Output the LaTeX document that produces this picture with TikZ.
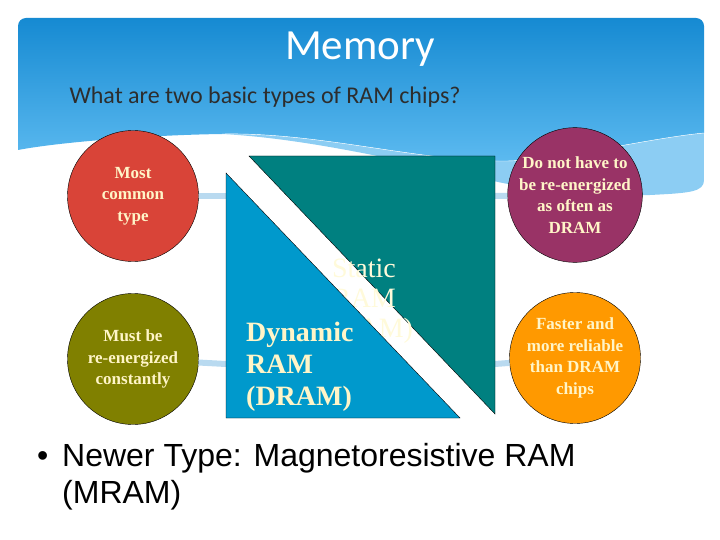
\documentclass[tikz,border=0pt]{standalone}
\usepackage{fontspec}
\setmainfont{Liberation Serif}
\newfontfamily\headfont{Carlito}
\newfontfamily\bulletfont{Liberation Sans}
\definecolor{hdtop}{RGB}{22,138,210}
\definecolor{hdbot}{RGB}{92,186,240}
\definecolor{band}{RGB}{140,205,243}
\definecolor{barblue}{RGB}{185,218,240}
\definecolor{redc}{RGB}{217,68,56}
\definecolor{olivec}{RGB}{128,128,0}
\definecolor{purplec}{RGB}{153,51,102}
\definecolor{orangec}{RGB}{255,153,0}
\definecolor{dramblue}{RGB}{0,153,204}
\definecolor{sramteal}{RGB}{0,128,128}
\definecolor{cream}{RGB}{255,245,200}
\definecolor{paleink}{RGB}{255,250,218}
\definecolor{subgray}{RGB}{45,45,45}

\begin{document}
\begin{tikzpicture}[x=1pt,y=-1pt,
    bubble/.style={circle,draw=black,thin,minimum size=131pt,inner sep=0pt,
      text=cream,align=center,font=\fontsize{17}{21.5}\selectfont\bfseries},
    bar/.style={barblue,line width=6pt}]
  \useasboundingbox (0,0) rectangle (720,540);

  % header
  \begin{scope}
    \clip[rounded corners=8pt] (18,18) rectangle (704,220);
    \shade[top color=hdtop,bottom color=hdbot] (18,18) -- (704,18) -- (704,133)
      .. controls (650,138) and (560,160) .. (507,161)
      .. controls (420,162) and (320,132) .. (222,134)
      .. controls (150,135) and (60,142) .. (18,150) -- cycle;
    \fill[band] (704,133) .. controls (650,138) and (560,160) .. (507,161)
      .. controls (420,162) and (320,132) .. (222,134)
      .. controls (300,138) and (390,158) .. (480,178)
      .. controls (530,190) and (590,197) .. (650,195)
      .. controls (690,193) and (704,192) .. (704,180) -- cycle;
    \draw[white,thin] (704,133) .. controls (650,138) and (560,160) .. (507,161)
      .. controls (420,162) and (320,132) .. (222,134);
  \end{scope}

  \node[anchor=base,text=white,font=\headfont\fontsize{43}{50}\selectfont] (title) at (360,60) {Memory};
  \node[anchor=base west,text=subgray,font=\headfont\fontsize{24}{28}\selectfont] (quest) at (66,104) {What are two basic types of RAM chips?};

  % circles
  \node[bubble,fill=redc]    (c1) at (133,196) {Most\\common\\type};
  \node[bubble,fill=olivec]  (c2) at (133,359) {Must be\\re-energized\\constantly};
  \node[bubble,fill=purplec] (c3) at (575,195) {Do not have to\\be re-energized\\as often as\\DRAM};
  \node[bubble,fill=orangec] (c4) at (575,358) {Faster and\\more reliable\\than DRAM\\chips};

  \coordinate (w1) at (226,196);
  \coordinate (e1) at (495,196);
  \coordinate (w2) at (226,364);
  \coordinate (e2) at (495,364);
  \draw[bar] (c1) -- (w1);
  \draw[bar] (c3) -- (e1);
  \draw[bar] (c2) -- (w2);
  \draw[bar] (c4) -- (e2);

  % the two halves
  \filldraw[fill=sramteal,draw=black,thin] (249,156) -- (495,156) -- (495,414) -- cycle;
  \node[inner sep=0pt,align=center,text=paleink,
    font=\fontsize{28}{30}\selectfont] (sram) at (364,301) {Static\\RAM\\(SRAM)};
  \filldraw[fill=dramblue,draw=black,thin] (226,173) -- (460,418) -- (226,418) -- cycle;
  \node[anchor=west,inner sep=0pt,align=left,text=cream,
    font=\fontsize{28}{32}\selectfont\bfseries] (dram) at (246,367) {Dynamic\\RAM\\(DRAM)};

  \node[anchor=base west,inner sep=0pt,font=\bulletfont\fontsize{32}{37}\selectfont] (dot) at (37,466) {•};
  \node[anchor=north west,inner sep=0pt,align=left,
    font=\bulletfont\fontsize{32}{37}\selectfont] (mram) at (62,443) {Newer Type: Magnetoresistive RAM\\(MRAM)};
\end{tikzpicture}
\end{document}
